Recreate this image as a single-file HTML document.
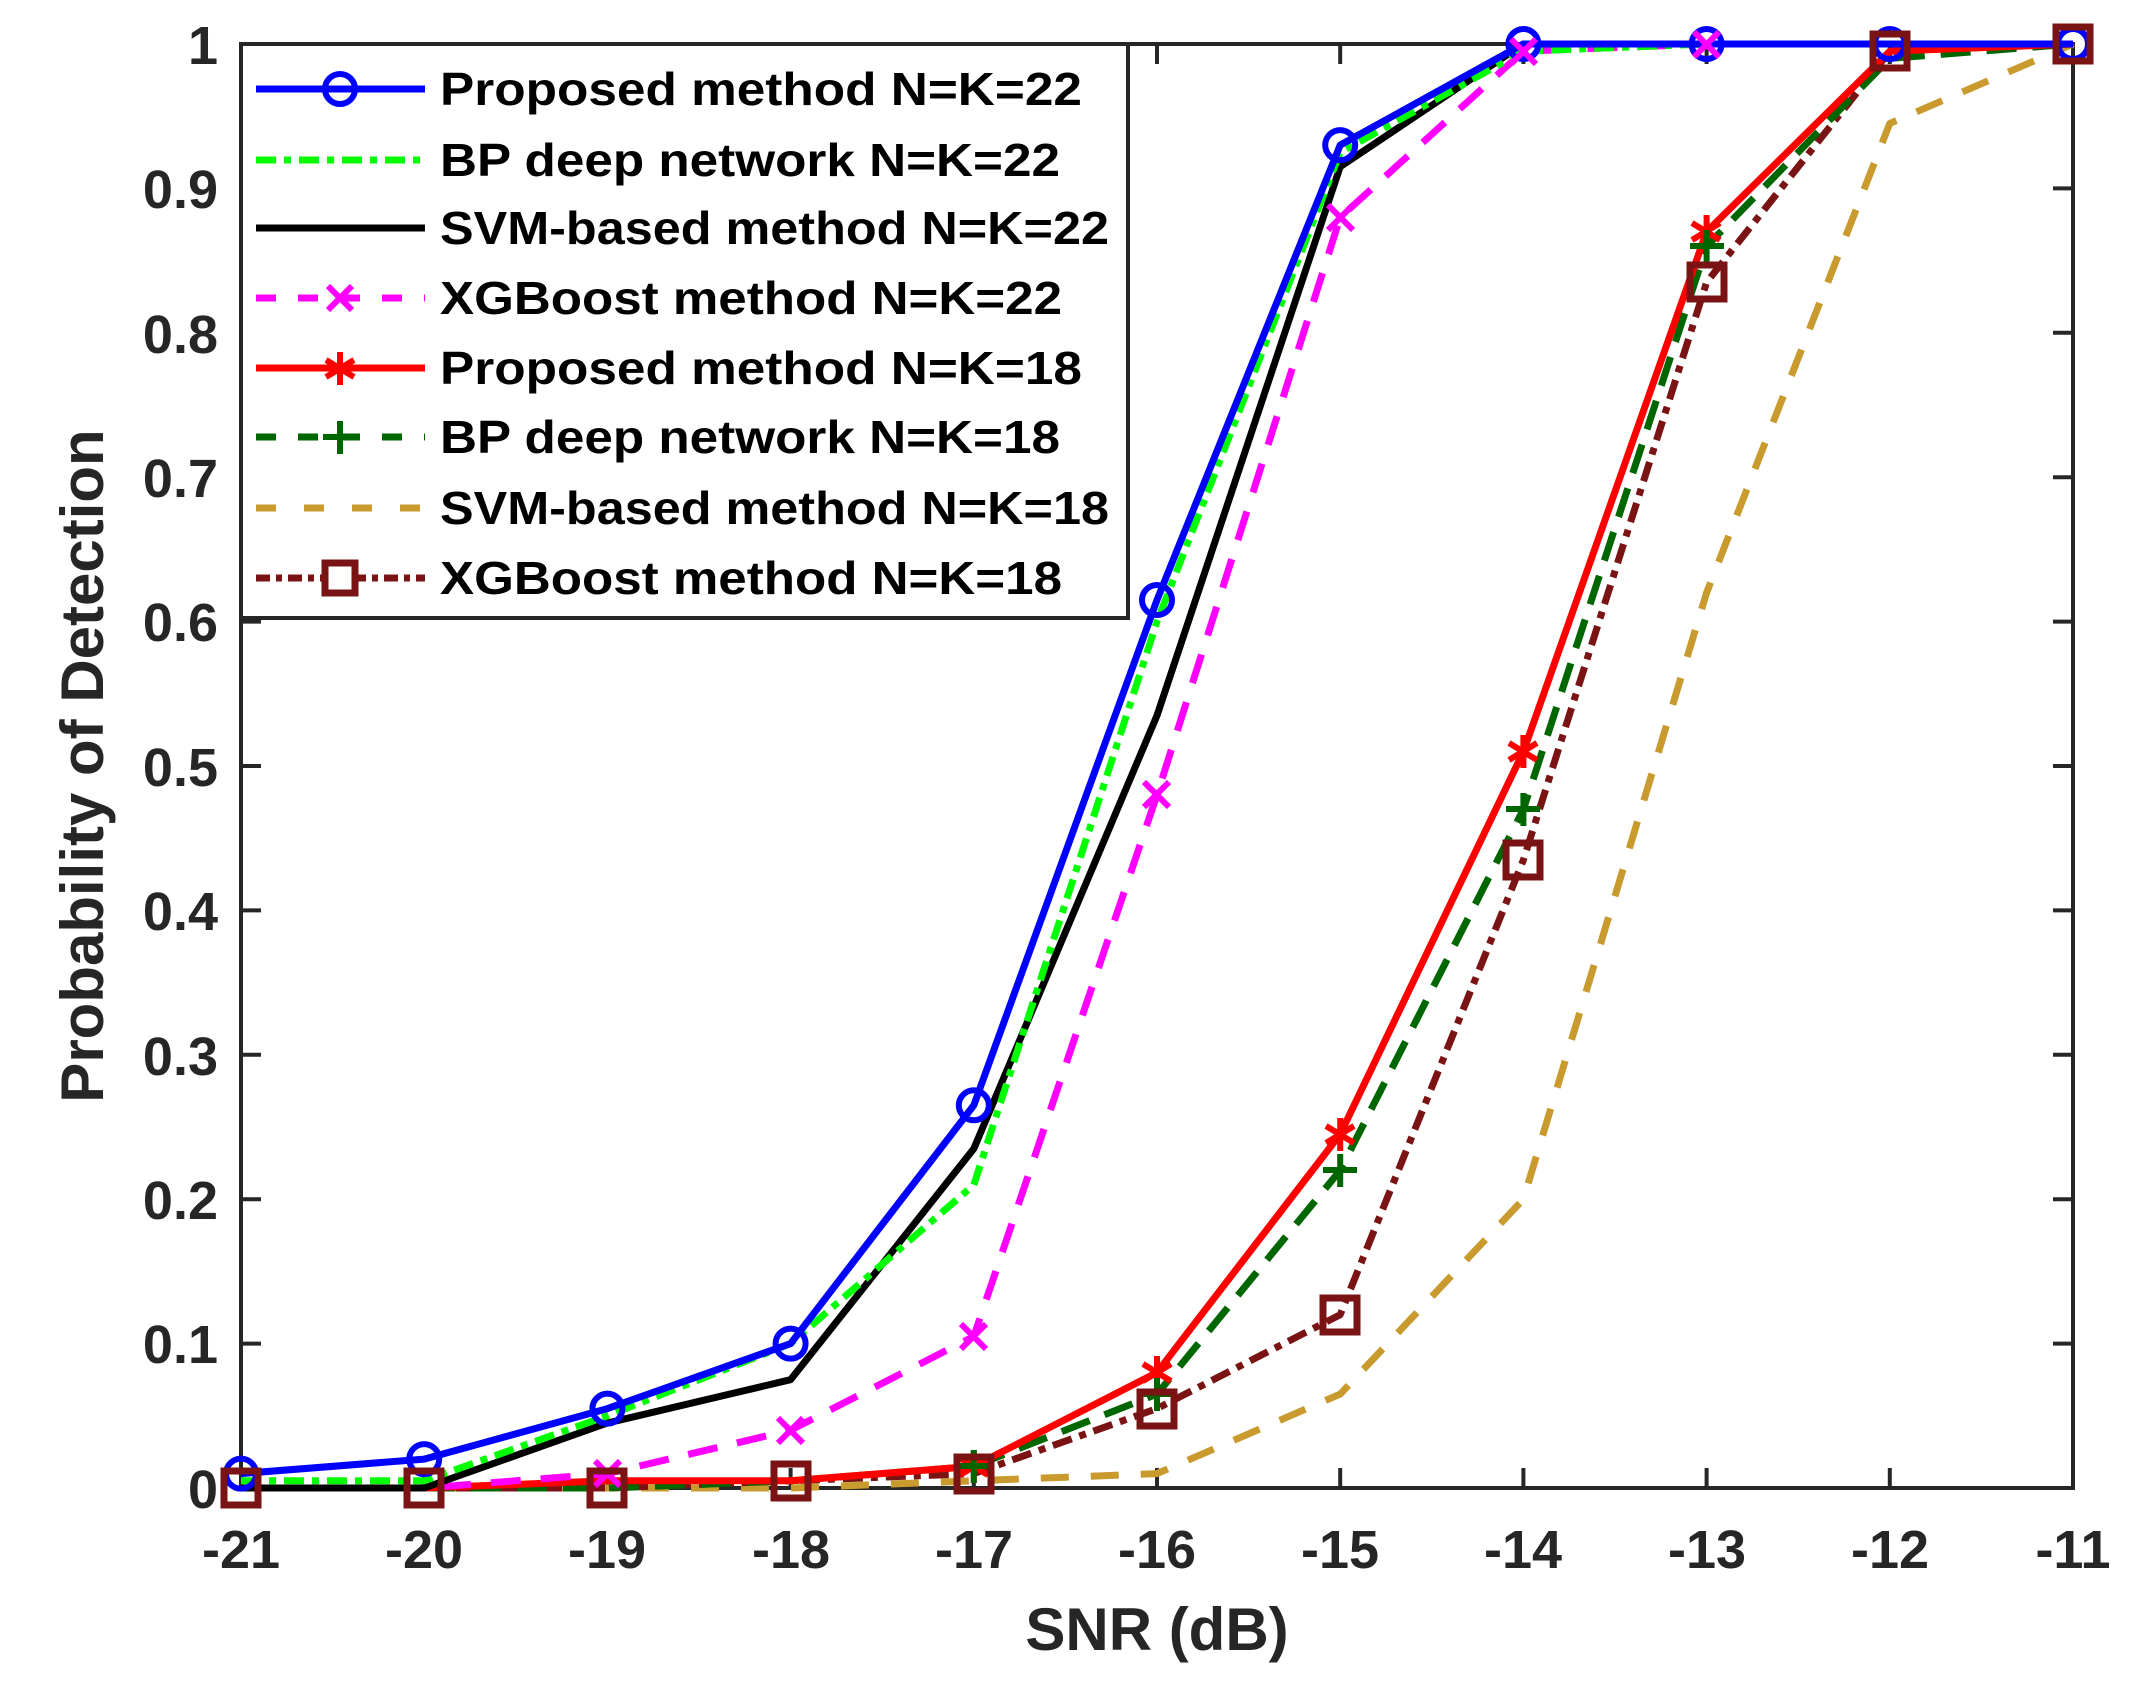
<!DOCTYPE html>
<html><head><meta charset="utf-8"><style>
html,body{margin:0;padding:0;background:#fff}
svg{display:block}
text{font-family:"Liberation Sans",Arial,sans-serif;font-weight:bold;fill:#262626}
</style></head><body>
<svg width="2147" height="1702" viewBox="0 0 2147 1702" xmlns="http://www.w3.org/2000/svg">
<rect width="2147" height="1702" fill="#fff"/>
<!-- axes box -->
<rect x="241" y="44" width="1832" height="1444" fill="none" stroke="#262626" stroke-width="4"/>
<g stroke="#262626" stroke-width="4">
<!-- x ticks bottom/top -->
<path d="M424.2 1488v-20M607.4 1488v-20M790.6 1488v-20M973.8 1488v-20M1157 1488v-20M1340.2 1488v-20M1523.4 1488v-20M1706.6 1488v-20M1889.8 1488v-20
M424.2 44v20M607.4 44v20M790.6 44v20M973.8 44v20M1157 44v20M1340.2 44v20M1523.4 44v20M1706.6 44v20M1889.8 44v20"/>
<!-- y ticks -->
<path d="M241 1343.6h20M241 1199.2h20M241 1054.8h20M241 910.4h20M241 766h20M241 621.6h20M241 477.2h20M241 332.8h20M241 188.4h20
M2073 1343.6h-20M2073 1199.2h-20M2073 1054.8h-20M2073 910.4h-20M2073 766h-20M2073 621.6h-20M2073 477.2h-20M2073 332.8h-20M2073 188.4h-20"/>
</g>
<!-- y tick labels -->
<g font-size="54" text-anchor="end">
<text x="218" y="1508">0</text>
<text x="218" y="1363">0.1</text>
<text x="218" y="1219">0.2</text>
<text x="218" y="1075">0.3</text>
<text x="218" y="930">0.4</text>
<text x="218" y="786">0.5</text>
<text x="218" y="641">0.6</text>
<text x="218" y="497">0.7</text>
<text x="218" y="353">0.8</text>
<text x="218" y="208">0.9</text>
<text x="218" y="64">1</text>
</g>
<g font-size="54" text-anchor="middle">
<text x="241" y="1568">-21</text>
<text x="424" y="1568">-20</text>
<text x="607" y="1568">-19</text>
<text x="791" y="1568">-18</text>
<text x="974" y="1568">-17</text>
<text x="1157" y="1568">-16</text>
<text x="1340" y="1568">-15</text>
<text x="1523" y="1568">-14</text>
<text x="1707" y="1568">-13</text>
<text x="1890" y="1568">-12</text>
<text x="2073" y="1568">-11</text>
</g>
<text x="1157" y="1650" font-size="60" text-anchor="middle">SNR (dB)</text>
<text transform="translate(103,766) rotate(-90)" font-size="60" text-anchor="middle">Probability of Detection</text>

<g fill="none" stroke-width="7" stroke-linejoin="round">
<!-- gold SVM18 -->
<polyline stroke="#C99A2E" stroke-dasharray="28 22" points="241,1488 424.2,1488 607.4,1488 790.6,1488 973.8,1480.8 1157,1473.6 1340.2,1394.1 1523.4,1199.2 1706.6,592.7 1889.8,123.4 2073,44"/>
<!-- brown XGB18 -->
<polyline stroke="#7A1414" stroke-dasharray="20 8 7 8" points="241,1488 424.2,1488 607.4,1488 790.6,1480.8 973.8,1473.6 1157,1408.6 1340.2,1314.7 1523.4,859.9 1706.6,282.3 1889.8,51.2 2073,44"/>
<!-- dark green BP18 -->
<polyline stroke="#006600" stroke-dasharray="30 16" points="241,1488 424.2,1488 607.4,1488 790.6,1480.8 973.8,1466.3 1157,1394.1 1340.2,1170.3 1523.4,809.3 1706.6,246.2 1889.8,58.4 2073,44"/>
<!-- red P18 -->
<polyline stroke="#FF0000" points="241,1488 424.2,1488 607.4,1480.8 790.6,1480.8 973.8,1466.3 1157,1372.5 1340.2,1134.2 1523.4,751.6 1706.6,231.7 1889.8,51.2 2073,44"/>
<!-- magenta XGB22 -->
<polyline stroke="#FF00FF" stroke-dasharray="30 20" points="241,1488 424.2,1488 607.4,1473.6 790.6,1430.2 973.8,1336.4 1157,794.9 1340.2,217.3 1523.4,51.2 1706.6,44 1889.8,44 2073,44"/>
<!-- black SVM22 -->
<polyline stroke="#000" points="241,1488 424.2,1488 607.4,1423 790.6,1379.7 973.8,1148.7 1157,715.5 1340.2,166.7 1523.4,44 1706.6,44 1889.8,44 2073,44"/>
<!-- green BP22 -->
<polyline stroke="#00FF00" stroke-dasharray="20 8 7 8" points="241,1480.8 424.2,1480.8 607.4,1415.8 790.6,1343.6 973.8,1184.8 1157,621.6 1340.2,152.3 1523.4,51.2 1706.6,44 1889.8,44 2073,44"/>
<!-- blue P22 -->
<polyline stroke="#0000FF" points="241,1473.6 424.2,1459.1 607.4,1408.6 790.6,1343.6 973.8,1105.3 1157,600 1340.2,145.1 1523.4,44 1706.6,44 1889.8,44 2073,44"/>
</g>
<!-- markers -->
<g fill="none" stroke="#0000FF" stroke-width="6">
<circle cx="241" cy="1473.6" r="15"/><circle cx="424.2" cy="1459.1" r="15"/><circle cx="607.4" cy="1408.6" r="15"/><circle cx="790.6" cy="1343.6" r="15"/><circle cx="973.8" cy="1105.3" r="15"/><circle cx="1157" cy="600" r="15"/><circle cx="1340.2" cy="145.1" r="15"/><circle cx="1523.4" cy="44" r="15"/><circle cx="1706.6" cy="44" r="15"/><circle cx="1889.8" cy="44" r="15"/><circle cx="2073" cy="44" r="15"/>
</g>
<g stroke="#FF00FF" stroke-width="6">
<path d="M595 1461l25 25M620 1461l-25 25 M778 1418l25 25M803 1418l-25 25 M961 1324l25 25M986 1324l-25 25 M1144 782l25 25M1169 782l-25 25 M1328 205l25 25M1353 205l-25 25 M1511 39l25 25M1536 39l-25 25 M1694 32l25 25M1719 32l-25 25"/>
</g>
<g stroke="#FF0000" stroke-width="6">
<path d="M1157 1356v33M1143 1364l28 17M1171 1364l-28 17 M1340.2 1118v33M1326 1126l28 17M1354 1126l-28 17 M1523.4 735v33M1509 743l28 17M1537 743l-28 17 M1706.6 215v33M1692 223l28 17M1720 223l-28 17 M973.8 1450v33M960 1458l28 17M988 1458l-28 17"/>
</g>
<g stroke="#006600" stroke-width="6">
<path d="M1157 1378v33M1140 1394h34 M1340.2 1154v33M1323 1170h34 M1523.4 793v33M1506 809h34 M1706.6 230v33M1690 246h34 M973.8 1450v33M957 1466h34"/>
</g>
<g fill="none" stroke="#7A1414" stroke-width="7">
<rect x="224" y="1471" width="34" height="34"/><rect x="407" y="1471" width="34" height="34"/><rect x="590" y="1471" width="34" height="34"/><rect x="774" y="1464" width="34" height="34"/><rect x="957" y="1457" width="34" height="34"/><rect x="1140" y="1392" width="34" height="34"/><rect x="1323" y="1298" width="34" height="34"/><rect x="1506" y="843" width="34" height="34"/><rect x="1690" y="265" width="34" height="34"/><rect x="1873" y="34" width="34" height="34"/><rect x="2056" y="27" width="34" height="34"/>
</g>

<!-- legend -->
<rect x="241" y="44" width="887" height="574" fill="#fff" stroke="#262626" stroke-width="4"/>
<g fill="none" stroke-width="7">
<line x1="256" y1="89" x2="425" y2="89" stroke="#0000FF"/>
<circle cx="340" cy="89" r="15" stroke="#0000FF" stroke-width="6"/>
<line x1="256" y1="160" x2="425" y2="160" stroke="#00FF00" stroke-dasharray="20 8 7 8"/>
<line x1="256" y1="228" x2="425" y2="228" stroke="#000"/>
<line x1="256" y1="298" x2="425" y2="298" stroke="#FF00FF" stroke-dasharray="20 22"/>
<path d="M328 286l24 24M352 286l-24 24" stroke="#FF00FF" stroke-width="6"/>
<line x1="256" y1="368" x2="425" y2="368" stroke="#FF0000"/>
<path d="M340 352v33M326 360l28 17M354 360l-28 17" stroke="#FF0000" stroke-width="6"/>
<line x1="256" y1="437" x2="425" y2="437" stroke="#006600" stroke-dasharray="20 22"/>
<path d="M340 421v33M323 437h34" stroke="#006600" stroke-width="6"/>
<line x1="256" y1="508" x2="425" y2="508" stroke="#C99A2E" stroke-dasharray="20 28"/>
<line x1="256" y1="578" x2="425" y2="578" stroke="#7A1414" stroke-dasharray="14 6 6 6"/>
<rect x="325" y="563" width="30" height="30" fill="#fff" stroke="#7A1414"/>
</g>
<g font-size="46" fill="#000">
<text x="440" y="105" textLength="642" lengthAdjust="spacingAndGlyphs" style="fill:#000">Proposed method N=K=22</text>
<text x="440" y="176" textLength="620" lengthAdjust="spacingAndGlyphs" style="fill:#000">BP deep network N=K=22</text>
<text x="440" y="244" textLength="669" lengthAdjust="spacingAndGlyphs" style="fill:#000">SVM-based method N=K=22</text>
<text x="440" y="314" textLength="622" lengthAdjust="spacingAndGlyphs" style="fill:#000">XGBoost method N=K=22</text>
<text x="440" y="384" textLength="642" lengthAdjust="spacingAndGlyphs" style="fill:#000">Proposed method N=K=18</text>
<text x="440" y="453" textLength="620" lengthAdjust="spacingAndGlyphs" style="fill:#000">BP deep network N=K=18</text>
<text x="440" y="524" textLength="669" lengthAdjust="spacingAndGlyphs" style="fill:#000">SVM-based method N=K=18</text>
<text x="440" y="594" textLength="622" lengthAdjust="spacingAndGlyphs" style="fill:#000">XGBoost method N=K=18</text>
</g>
</svg>
</body></html>
